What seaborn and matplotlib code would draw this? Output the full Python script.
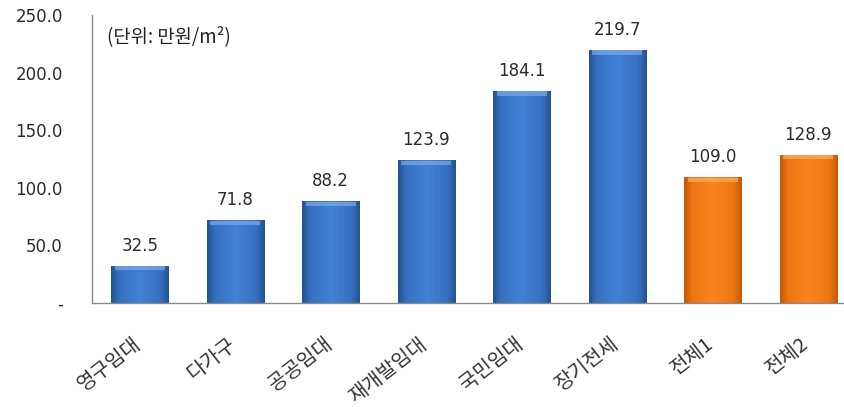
import numpy as np
import pandas as pd
import matplotlib
matplotlib.use("Agg")
import matplotlib.pyplot as plt
import matplotlib.transforms as mtransforms
import seaborn as sns
from matplotlib.colors import LinearSegmentedColormap

categories = ["영구임대", "다가구", "공공임대", "재개발임대", "국민임대", "장기전세", "전체1", "전체2"]
values = [32.5, 71.8, 88.2, 123.9, 184.1, 219.7, 109.0, 128.9]
groups = ["임대", "임대", "임대", "임대", "임대", "임대", "전체", "전체"]
y_ticks = [0, 50, 100, 150, 200, 250]
y_tick_labels = ["-", "50.0", "100.0", "150.0", "200.0", "250.0"]
unit_text = "(단위: 만원/m²)"

sns.set_theme(style="white")
plt.rcParams["font.family"] = ["DejaVu Sans", "Noto Sans CJK KR"]
korean_font = ["Noto Sans CJK KR", "DejaVu Sans"]

df = pd.DataFrame({"category": categories, "value": values, "group": groups})
palette = {"임대": "#3b76c9", "전체": "#f57b15"}

fig = plt.figure(figsize=(8.45, 4.07), dpi=100)
ax = fig.add_axes([92 / 845, 104 / 407, 753 / 845, 288 / 407])

sns.barplot(data=df, x="category", y="value", hue="group", palette=palette,
            dodge=False, width=0.6, legend=False, ax=ax, saturation=1)

# cylinder-like shading over each bar
shades = {
    "임대": [(0.0, "#24538f"), (0.14, "#3670c2"), (0.5, "#4281d6"), (0.86, "#3670c2"), (1.0, "#24538f")],
    "전체": [(0.0, "#c25a08"), (0.14, "#ef7511"), (0.5, "#fa8420"), (0.86, "#ef7511"), (1.0, "#c25a08")],
}
tops = {"임대": "#7eaaea", "전체": "#ffad62"}
for patch, grp in zip(ax.patches, groups):
    x0, y0 = patch.get_x(), patch.get_y()
    w, h = patch.get_width(), patch.get_height()
    cmap = LinearSegmentedColormap.from_list("s", shades[grp])
    grad = np.tile(np.linspace(0, 1, 80), (32, 1))
    img = ax.imshow(grad, cmap=cmap, extent=[x0, x0 + w, y0, y0 + h],
                    aspect="auto", origin="lower", zorder=patch.get_zorder() + 0.1)
    img.set_clip_path(patch)
    ax.fill_between([x0 + w * 0.06, x0 + w * 0.94], y0 + h - 4.0, y0 + h - 0.5,
                    color=tops[grp], alpha=0.7, lw=0, zorder=patch.get_zorder() + 0.2)

for i, v in enumerate(values):
    ax.text(i, v + 9.5, f"{v:.1f}", ha="center", va="bottom", fontsize=12, color="#2b2b2b")

ax.set_xlim(-0.5, 7.385)
ax.set_ylim(0, 250)
ax.set_yticks(y_ticks)
ax.set_yticklabels(y_tick_labels, fontsize=12, color="#2b2b2b")
ax.set_xticks(range(len(categories)))
ax.set_xticklabels(categories, rotation=38, ha="right", rotation_mode="anchor",
                   fontsize=14.5, color="#333333", family=korean_font)
ax.tick_params(axis="x", pad=22, length=0)
ax.tick_params(axis="y", pad=21, length=0)
shift = mtransforms.ScaledTranslation(-8 / 100, 0, fig.dpi_scale_trans)
for lbl in ax.get_xticklabels():
    lbl.set_transform(lbl.get_transform() + shift)
ax.set_xlabel("")
ax.set_ylabel("")

for side in ["top", "right"]:
    ax.spines[side].set_visible(False)
for side in ["left", "bottom"]:
    ax.spines[side].set_color("#8a8a8a")
    ax.spines[side].set_linewidth(1.0)

ax.text(0.02, 0.96, unit_text, transform=ax.transAxes, ha="left", va="top",
        fontsize=13.5, color="#222222", family=korean_font)

fig.savefig("out.png", dpi=100)
